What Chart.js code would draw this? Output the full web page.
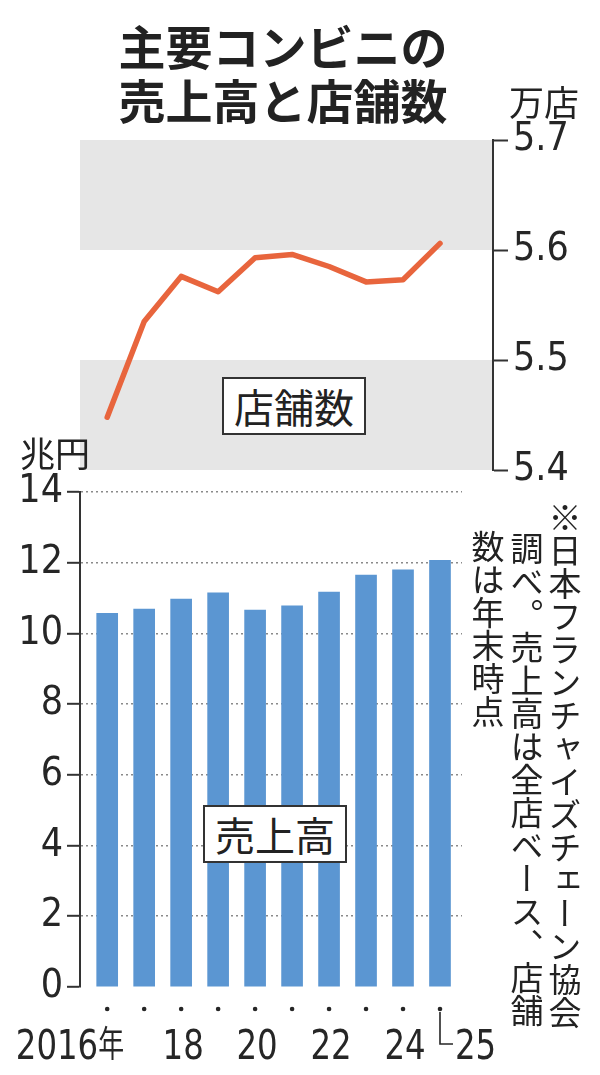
<!DOCTYPE html>
<html lang="ja">
<head>
<meta charset="utf-8">
<script src="https://cdn.jsdelivr.net/npm/chart.js@4.4.1/dist/chart.umd.min.js"></script>
<style>
  html, body { margin: 0; padding: 0; background: #fff; }
  body { width: 600px; height: 1075px; position: relative; overflow: hidden;
         font-family: "Noto Sans CJK JP", "Noto Sans", sans-serif; color: #222; }
  canvas { position: absolute; left: 0; top: 0; }
  .abs { position: absolute; white-space: nowrap; }
  #title { left: 0; width: 566px; top: 18px; font-size: 47px; line-height: 54px;
           font-weight: 700; text-align: center; letter-spacing: 0; }
  #unitR { left: 509px; top: 83px; font-size: 35px; line-height: 36px; }
  #unitL { left: 20px; top: 434px; font-size: 35px; line-height: 36px; }
  .box { border: 2px solid #333; background: #fff; width: 140px; height: 54px;
         font-size: 40px; line-height: 54px; text-align: center; }
  #boxStore { left: 222px; top: 377px; }
  #boxSales { left: 203px; top: 805px; }
  .note { writing-mode: vertical-rl; font-size: 33px; line-height: 38px; width: 38px; }
  #n1 { left: 546px; top: 501px; }
  #n2 { left: 508px; top: 532px; }
  #n3 { left: 469px; top: 530px; }
</style>
</head>
<body>
<canvas id="top" width="600" height="1075"></canvas>
<canvas id="bottom" width="600" height="1075"></canvas>

<div id="title" class="abs">主要コンビニの<br>売上高と店舗数</div>
<div id="unitR" class="abs">万店</div>
<div id="unitL" class="abs">兆円</div>
<div id="boxStore" class="abs box">店舗数</div>
<div id="boxSales" class="abs box">売上高</div>
<div id="n1" class="abs note">※日本フランチャイズチェーン協会</div>
<div id="n2" class="abs note">調べ。売上高は全店ベース、店舗</div>
<div id="n3" class="abs note">数は年末時点</div>

<script>
// ---- data ----
const categories = ['2016', '2017', '2018', '2019', '2020', '2021', '2022', '2023', '2024', '2025'];
const xTickLabels = ['2016', '', '18', '', '20', '', '22', '', '24', '25'];
const salesValues = [10.57, 10.69, 10.97, 11.15, 10.66, 10.78, 11.17, 11.65, 11.80, 12.07]; // 兆円
const storeValues = [5.448, 5.535, 5.576, 5.562, 5.593, 5.596, 5.585, 5.571, 5.573, 5.606]; // 万店
const salesTicks = [0, 2, 4, 6, 8, 10, 12, 14];
const salesTickLabels = ['0', '2', '4', '6', '8', '10', '12', '14'];
const storeTicks = [5.4, 5.5, 5.6, 5.7];
const storeTickLabels = ['5.4', '5.5', '5.6', '5.7'];
const storeBands = [[5.4, 5.5], [5.6, 5.7]];

const NUM_FONT = "'Liberation Sans Narrow', 'DejaVu Sans Condensed', sans-serif";
const INK = '#262626';
const AXIS = '#333333';

function labelFor(ticks, labels, v) {
  const i = ticks.findIndex(t => Math.abs(t - v) < 1e-6);
  return i >= 0 ? labels[i] : '';
}

// ---- top chart: store count line ----
const bandPlugin = {
  id: 'bands',
  beforeDatasetsDraw(chart) {
    const { ctx, chartArea: a, scales: { y } } = chart;
    ctx.save();
    ctx.fillStyle = '#e6e6e6';
    storeBands.forEach(([lo, hi]) => {
      const yTop = y.getPixelForValue(hi);
      const yBot = y.getPixelForValue(lo);
      ctx.fillRect(a.left, yTop, a.right - a.left - 1, yBot - yTop);
    });
    ctx.restore();
  }
};

new Chart(document.getElementById('top'), {
  type: 'line',
  data: {
    datasets: [{
      data: storeValues.map((v, i) => ({ x: i, y: v })),
      borderColor: '#e8653d',
      borderWidth: 5.5,
      borderJoinStyle: 'round',
      borderCapStyle: 'round',
      pointRadius: 0,
      tension: 0,
      fill: false
    }]
  },
  options: {
    responsive: false,
    animation: false,
    events: [],
    layout: { padding: { left: 80, right: 0, top: 140, bottom: 605 } },
    plugins: { legend: { display: false }, tooltip: { enabled: false } },
    scales: {
      x: { type: 'linear', display: false, offset: false, min: -0.7355, max: 10.433 },
      y: {
        position: 'right',
        min: 5.4, max: 5.7,
        afterBuildTicks: s => { s.ticks = storeTicks.map(v => ({ value: v })); },
        afterFit: s => { s.width = 107; },
        grid: { drawOnChartArea: false, tickLength: 15, tickColor: AXIS, tickWidth: 2 },
        border: { color: AXIS, width: 2 },
        ticks: {
          padding: 5, color: INK,
          font: { family: NUM_FONT, size: 39 },
          callback: v => labelFor(storeTicks, storeTickLabels, v)
        }
      }
    }
  },
  plugins: [bandPlugin]
});

// ---- bottom chart: sales bars ----
const xLabelPlugin = {
  id: 'xlabels',
  afterDraw(chart) {
    const { ctx, chartArea: a, scales: { x } } = chart;
    const dotY = a.bottom + 22;
    const base = a.bottom + 72;
    const sx = 0.9;
    ctx.save();
    ctx.fillStyle = INK;
    ctx.strokeStyle = INK;
    categories.forEach((c, i) => {
      const px = x.getPixelForValue(i);
      ctx.beginPath();
      ctx.arc(px, dotY, 2.3, 0, Math.PI * 2);
      ctx.fill();
    });
    const numFont = `40px ${NUM_FONT}`;
    ctx.textBaseline = 'alphabetic';
    xTickLabels.forEach((lab, i) => {
      if (!lab) return;
      const px = x.getPixelForValue(i);
      let anchor, align;
      if (i === 0) { anchor = px - 9; align = 'right'; }
      else if (i === xTickLabels.length - 1) { anchor = px + 15; align = 'left'; }
      else { anchor = px + 2; align = 'center'; }
      ctx.save();
      ctx.translate(anchor, base);
      ctx.scale(sx, 1);
      ctx.font = numFont;
      ctx.textAlign = align;
      ctx.fillText(lab, 0, 0);
      ctx.restore();
      if (i === 0) {
        ctx.save();
        ctx.translate(px - 9, base);
        ctx.scale(0.72, 1);
        ctx.font = "36px 'Noto Sans CJK JP', sans-serif";
        ctx.textAlign = 'left';
        ctx.fillText('年', 0, -2);
        ctx.restore();
      }
      if (i === xTickLabels.length - 1) {
        ctx.lineWidth = 1.6;
        ctx.beginPath();
        ctx.moveTo(px, dotY + 3);
        ctx.lineTo(px, a.bottom + 57);
        ctx.lineTo(px + 13, a.bottom + 57);
        ctx.stroke();
      }
    });
    ctx.restore();
  }
};

new Chart(document.getElementById('bottom'), {
  type: 'bar',
  data: {
    datasets: [{
      data: salesValues.map((v, i) => ({ x: i, y: v })),
      backgroundColor: '#5b96d2',
      borderWidth: 0,
      barThickness: 21
    }]
  },
  options: {
    responsive: false,
    animation: false,
    events: [],
    layout: { padding: { left: 0, right: 138, top: 492, bottom: 88 } },
    plugins: { legend: { display: false }, tooltip: { enabled: false } },
    scales: {
      x: { type: 'linear', display: false, offset: false, min: -0.7355, max: 9.595 },
      y: {
        position: 'left',
        min: 0, max: 14,
        afterBuildTicks: s => { s.ticks = salesTicks.map(v => ({ value: v })); },
        afterFit: s => { s.width = 80; },
        grid: {
          color: c => (c.tick && c.tick.value === 0) ? 'rgba(0,0,0,0)' : '#8a8a8a',
          lineWidth: 1.6,
          tickLength: 13, tickColor: AXIS, tickWidth: 2, tickBorderDash: []
        },
        border: { color: AXIS, width: 2, dash: [2, 3] },
        ticks: {
          padding: 4, color: INK,
          font: { family: NUM_FONT, size: 39 },
          callback: v => labelFor(salesTicks, salesTickLabels, v)
        }
      }
    }
  },
  plugins: [xLabelPlugin]
});
</script>
</body>
</html>
